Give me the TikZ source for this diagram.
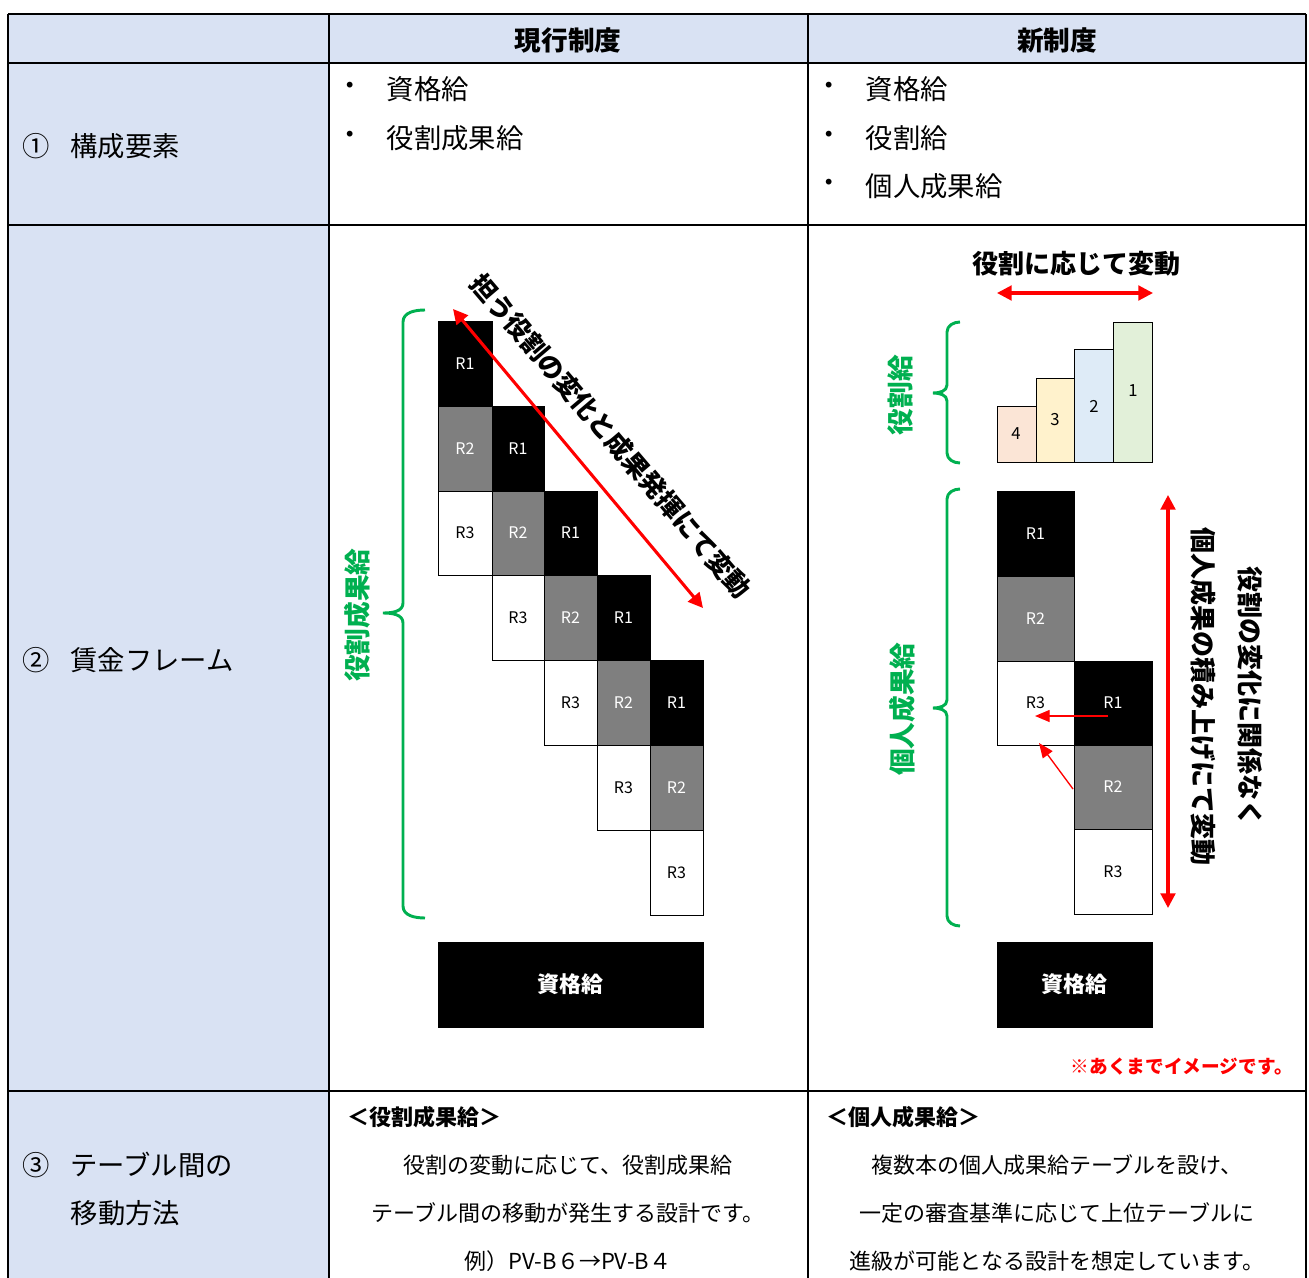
\documentclass[tikz,border=0pt]{standalone}
\usepackage{fontspec}
\setmainfont{Noto Sans CJK JP}
\usetikzlibrary{arrows.meta,calc}
\definecolor{hdr}{HTML}{D9E2F3}
\definecolor{gbr}{HTML}{00B050}
\definecolor{rd}{HTML}{FF0000}
\definecolor{gr}{HTML}{7F7F7F}
\definecolor{b4}{HTML}{FBE5D6}
\definecolor{b3}{HTML}{FFF2CC}
\definecolor{b2}{HTML}{DEEBF7}
\definecolor{b1}{HTML}{E2F0D9}
\tikzset{
  tab/.style={line width=1.5pt,black},
  hd/.style={font=\bfseries\fontsize{20}{24}\selectfont},
  bd/.style={font=\fontsize{20.5}{24}\selectfont},
  sm/.style={font=\fontsize{16.5}{20}\selectfont},
  smb/.style={font=\bfseries\fontsize{16.5}{20}\selectfont},
  rl/.style={font=\fontsize{12}{14}\selectfont},
  blk/.style={fill=black,draw=black,line width=0.6pt},
  gry/.style={fill=gr,draw=black,line width=0.6pt},
  wht/.style={fill=white,draw=black,line width=0.6pt},
  wt/.style={rl,text=white},
  bt/.style={rl,text=black},
  gbrace/.style={gbr,line width=2.2pt},
  glab/.style={text=gbr,font=\bfseries\fontsize{20}{24}\selectfont,rotate=90},
  rarrow/.style={rd,line width=2.3pt,{Triangle[length=11pt,width=11pt]}-{Triangle[length=11pt,width=11pt]}},
  rsmall/.style={rd,line width=1pt,-{Triangle[length=11pt,width=9pt]}},
  big/.style={font=\bfseries\fontsize{19.5}{24}\selectfont},
}
\begin{document}
\begin{tikzpicture}[x=0.75pt,y=-0.75pt]
\useasboundingbox[fill=white] (0,0) rectangle (1309,1277);
% backgrounds
\fill[hdr] (8,14) rectangle (1306,63);
\fill[hdr] (8,63) rectangle (329,1300);
% table lines
\draw[tab] (8,14) -- (1306,14);
\draw[tab] (8,63) -- (1306,63);
\draw[tab] (8,225) -- (1306,225);
\draw[tab] (8,1091) -- (1306,1091);
\draw[tab] (8,14) -- (8,1300);
\draw[tab] (329,14) -- (329,1300);
\draw[tab] (808,14) -- (808,1300);
\draw[tab] (1306,14) -- (1306,1300);
% header
\node[hd] (h1) at (568,40) {現行制度};
\node[hd] (h2) at (1057,40) {新制度};
% row 1
\node[bd,anchor=west] (l1) at (18,146) {①\hspace{0.75em}構成要素};
\node[bd] (d1) at (350,89) {・};
\node[bd,anchor=west] (a1) at (382,89) {資格給};
\node[bd] (d2) at (350,138) {・};
\node[bd,anchor=west] (a2) at (382,138) {役割成果給};
\node[bd] (d3) at (829,89) {・};
\node[bd,anchor=west] (b1) at (861,89) {資格給};
\node[bd] (d4) at (829,138) {・};
\node[bd,anchor=west] (b2) at (861,138) {役割給};
\node[bd] (d5) at (829,186) {・};
\node[bd,anchor=west] (b3) at (861,186) {個人成果給};
% row 2 label
\node[bd,anchor=west] (l2) at (18,660) {②\hspace{0.75em}賃金フレーム};
% left grid
\draw[blk] (438,321) rectangle node[wt] (c11) {R1} (492,406);
\draw[gry] (438,406) rectangle node[wt] (c12) {R2} (492,491);
\draw[wht] (438,491) rectangle node[bt] (c13) {R3} (492,575);
\draw[blk] (492,406) rectangle node[wt] (c21) {R1} (544,491);
\draw[gry] (492,491) rectangle node[wt] (c22) {R2} (544,575);
\draw[wht] (492,575) rectangle node[bt] (c23) {R3} (544,660);
\draw[blk] (544,491) rectangle node[wt] (c31) {R1} (597,575);
\draw[gry] (544,575) rectangle node[wt] (c32) {R2} (597,660);
\draw[wht] (544,660) rectangle node[bt] (c33) {R3} (597,745);
\draw[blk] (597,575) rectangle node[wt] (c41) {R1} (650,660);
\draw[gry] (597,660) rectangle node[wt] (c42) {R2} (650,745);
\draw[wht] (597,745) rectangle node[bt] (c43) {R3} (650,830);
\draw[blk] (650,660) rectangle node[wt] (c51) {R1} (703,745);
\draw[gry] (650,745) rectangle node[wt] (c52) {R2} (703,830);
\draw[wht] (650,830) rectangle node[bt] (c53) {R3} (703,915);
\draw[blk] (438,942) rectangle node[text=white,smb] (q1) {資格給} (703,1027);
% left brace
\draw[gbrace] (425,310) to[out=180,in=90] (403,322) -- (403,603) to[out=-90,in=0] (383,613) to[out=0,in=90] (403,623) -- (403,906) to[out=-90,in=180] (425,918);
\node[glab] (g1) at (357,615) {役割成果給};
% diagonal arrow
\coordinate (da) at (453,309);
\coordinate (db) at (703,608);
\draw[rarrow] (da) -- (db);
\node[big,rotate=-49.5] (dt) at (611,436) {担う役割の変化と成果発揮にて変動};
% right top bars
\node[big] (t1) at (1076,264) {役割に応じて変動};
\coordinate (ha) at (997,293);
\coordinate (hb) at (1153,293);
\draw[rarrow] (ha) -- (hb);
\draw[fill=b4,draw=black,line width=0.6pt] (997,406) rectangle (1036,462);
\draw[fill=b3,draw=black,line width=0.6pt] (1036,378) rectangle (1074,462);
\draw[fill=b2,draw=black,line width=0.6pt] (1074,349) rectangle (1113,462);
\draw[fill=b1,draw=black,line width=0.6pt] (1113,322) rectangle (1152,462);
\node[rl,font=\fontsize{12.5}{14}\selectfont] (n4) at (1016,434) {4};
\node[rl,font=\fontsize{12.5}{14}\selectfont] (n3) at (1055,420) {3};
\node[rl,font=\fontsize{12.5}{14}\selectfont] (n2) at (1094,406) {2};
\node[rl,font=\fontsize{12.5}{14}\selectfont] (n1) at (1133,391) {1};
\draw[gbrace] (960,322) to[out=180,in=90] (947,332) -- (947,385) to[out=-90,in=0] (933,393) to[out=0,in=90] (947,401) -- (947,453) to[out=-90,in=180] (960,463);
\node[glab] (g2) at (900,395) {役割給};
% right lower grid
\draw[blk] (997,491) rectangle node[wt] (e11) {R1} (1074,576);
\draw[gry] (997,576) rectangle node[wt] (e12) {R2} (1074,661);
\draw[wht] (997,661) rectangle node[bt] (e13) {R3} (1074,745);
\draw[blk] (1074,661) rectangle node[wt] (e21) {R1} (1152,745);
\draw[gry] (1074,745) rectangle node[wt] (e22) {R2} (1152,829);
\draw[wht] (1074,829) rectangle node[bt] (e23) {R3} (1152,914);
\draw[blk] (997,942) rectangle node[text=white,smb] (q2) {資格給} (1152,1027);
\coordinate (s1a) at (1108,716);
\coordinate (s1b) at (1035,716);
\draw[rsmall] (s1a) -- (s1b);
\coordinate (s2a) at (1073,789);
\coordinate (s2b) at (1039,743);
\draw[rsmall] (s2a) -- (s2b);
\draw[gbrace] (960,489) to[out=180,in=90] (947,499) -- (947,700) to[out=-90,in=0] (933,708) to[out=0,in=90] (947,716) -- (947,916) to[out=-90,in=180] (960,926);
\node[glab] (g3) at (902,709) {個人成果給};
\coordinate (va) at (1168,495);
\coordinate (vb) at (1168,908);
\draw[rarrow] (va) -- (vb);
\node[big,rotate=-90] (v1) at (1203,696) {個人成果の積み上げにて変動};
\node[big,rotate=-90] (v2) at (1250,696) {役割の変化に関係なく};
\node[text=rd,font=\bfseries\fontsize{14}{18}\selectfont,anchor=east,inner sep=0pt] (note) at (1293,1067) {※あくまでイメージです。};
% row 3
\node[bd,anchor=west] (l3a) at (18,1165) {③\hspace{0.75em}テーブル間の};
\node[bd,anchor=west] (l3b) at (66,1213) {移動方法};
\node[smb,anchor=west] (p0) at (343,1117) {＜役割成果給＞};
\node[sm] (p1) at (568,1165) {役割の変動に応じて、役割成果給};
\node[sm] (p2) at (568,1213) {テーブル間の移動が発生する設計です。};
\node[sm] (p3) at (568,1261) {例）PV-B６→PV-B４};
\node[smb,anchor=west] (r0) at (822,1117) {＜個人成果給＞};
\node[sm] (r1) at (1057,1165) {複数本の個人成果給テーブルを設け、};
\node[sm] (r2) at (1057,1213) {一定の審査基準に応じて上位テーブルに};
\node[sm] (r3) at (1057,1261) {進級が可能となる設計を想定しています。};
\end{tikzpicture}
\end{document}
